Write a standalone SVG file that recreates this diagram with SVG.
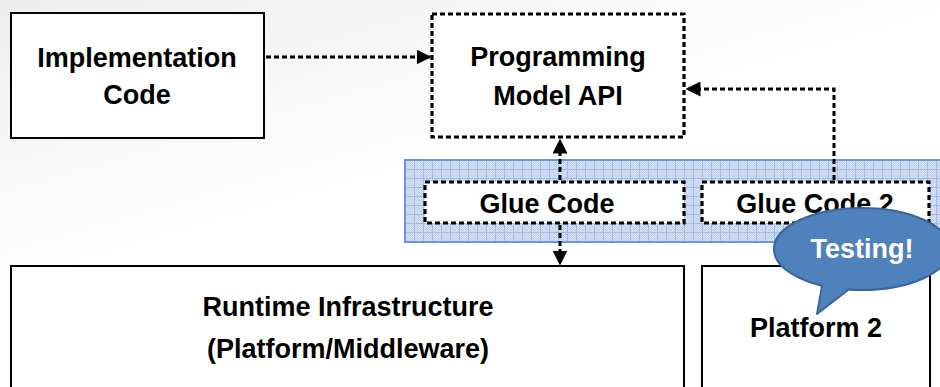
<svg xmlns="http://www.w3.org/2000/svg" width="940" height="387" viewBox="0 0 940 387">
  <defs>
    <linearGradient id="bg" x1="0" y1="0" x2="0.35" y2="0.5">
      <stop offset="0" stop-color="#eeeeee"/>
      <stop offset="1" stop-color="#ffffff"/>
    </linearGradient>
    <!-- fine checker texture of the glue layer -->
    <pattern id="dots" width="2" height="2" patternUnits="userSpaceOnUse">
      <rect width="2" height="2" fill="#d6e1f3"/>
      <rect width="1" height="1" fill="#bfd1ee"/>
      <rect x="1" y="1" width="1" height="1" fill="#bfd1ee"/>
    </pattern>
    <pattern id="grid" width="9" height="9" patternUnits="userSpaceOnUse" x="405" y="160">
      <rect width="9" height="9" fill="url(#dots)"/>
      <path d="M0 0.5H9M0.5 0V9" stroke="#a3bbe3" stroke-width="1" fill="none"/>
    </pattern>
    <marker id="arrow" viewBox="0 0 10 10" refX="9" refY="5" markerWidth="5" markerHeight="5" orient="auto" markerUnits="strokeWidth">
      <path d="M0 0L10 5L0 10z" fill="#000"/>
    </marker>
  </defs>
  <style>
    .solid { fill: #fff; stroke: #000; stroke-width: 2; }
    .dash { fill: #fff; stroke: #000; stroke-width: 3.2; stroke-dasharray: 5 3; }
    .conn { fill: none; stroke: #000; stroke-width: 3; stroke-dasharray: 5 3; }
    .lbl { font-family: "Liberation Sans", Arial, sans-serif; font-weight: bold; font-size: 27px; fill: #000; text-anchor: middle; }
    .callout { fill: #fff; font-size: 27px; }
  </style>

  <rect width="940" height="387" fill="url(#bg)"/>

  <!-- glue layer band -->
  <g id="glue-layer">
    <rect x="405" y="160" width="540" height="82" fill="url(#grid)" stroke="#6c97d6" stroke-width="2"/>
  </g>

  <g id="implementation-code">
    <rect class="solid" x="11" y="13" width="253" height="125"/>
    <text class="lbl" x="137" y="67" font-size="28">Implementation</text>
    <text class="lbl" x="137" y="104" font-size="28">Code</text>
  </g>

  <g id="programming-model-api">
    <rect class="dash" x="432" y="14" width="252" height="123"/>
    <text class="lbl" x="558" y="66">Programming</text>
    <text class="lbl" x="558" y="105">Model API</text>
  </g>

  <g id="glue-code">
    <rect class="dash" x="425" y="182" width="259" height="41"/>
    <text class="lbl" x="547" y="213">Glue Code</text>
  </g>

  <g id="glue-code-2">
    <rect class="dash" x="702" y="182" width="227" height="41"/>
    <text class="lbl" x="815" y="213">Glue Code 2</text>
  </g>

  <g id="runtime-infrastructure">
    <rect class="solid" x="11" y="266" width="673" height="130"/>
    <text class="lbl" x="348" y="316">Runtime Infrastructure</text>
    <text class="lbl" x="348" y="358">(Platform/Middleware)</text>
  </g>

  <g id="platform-2">
    <rect class="solid" x="702" y="266" width="228" height="130"/>
    <text class="lbl" x="816" y="337">Platform 2</text>
  </g>

  <g id="connectors">
    <path class="conn" d="M266 57H430" marker-end="url(#arrow)"/>
    <path class="conn" d="M560 180V140" marker-end="url(#arrow)"/>
    <path class="conn" d="M560 225V264" marker-end="url(#arrow)"/>
    <path class="conn" d="M834 180V89H687" marker-end="url(#arrow)"/>
  </g>

  <g id="testing-callout">
    <path d="M822 286 L817 314 L852 287 Z" fill="#4f81bd" stroke="#3a659a" stroke-width="2" stroke-linejoin="round"/>
    <ellipse cx="862" cy="249" rx="88" ry="41" fill="#4f81bd" stroke="#3a659a" stroke-width="2"/>
    <path d="M823 284 L819 310 L851 286" fill="#4f81bd"/>
    <text class="lbl callout" x="862" y="258">Testing!</text>
  </g>
</svg>
